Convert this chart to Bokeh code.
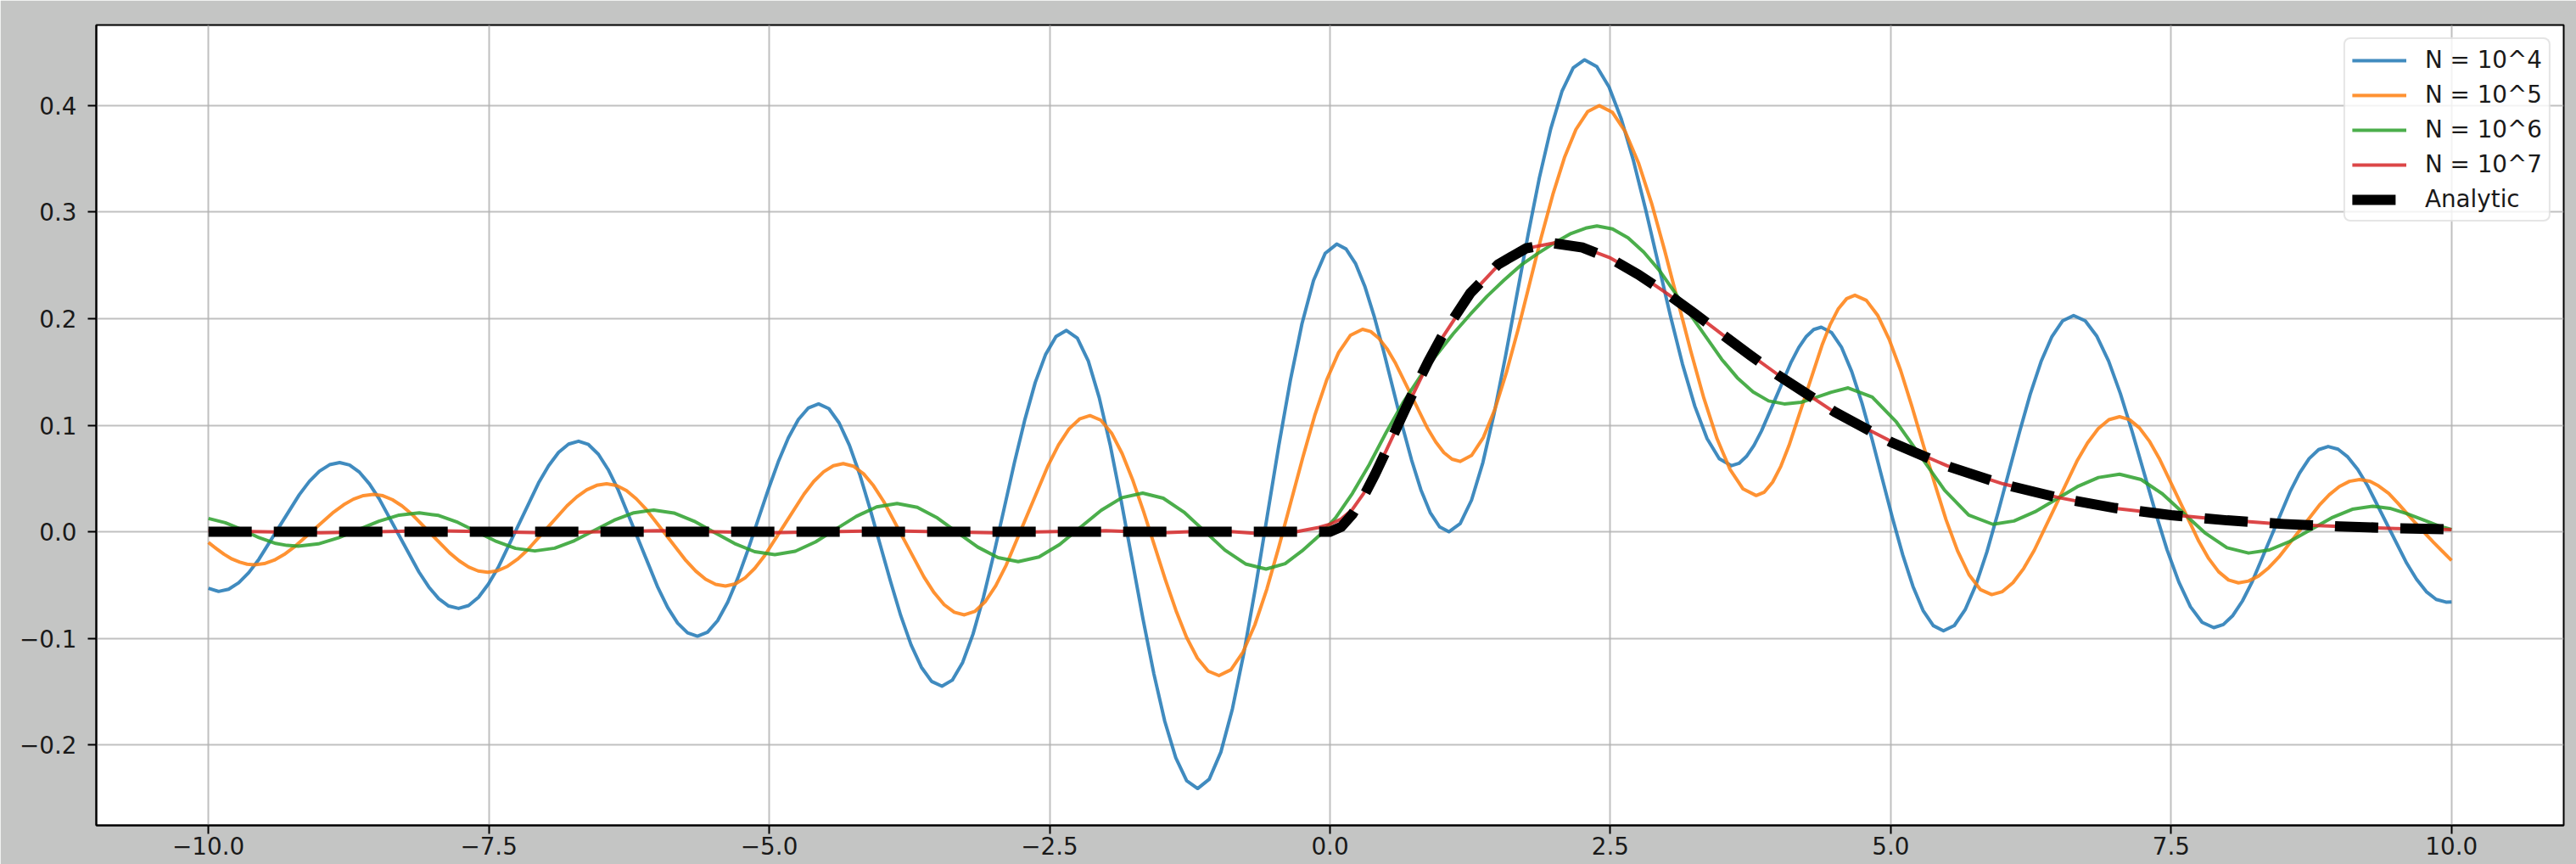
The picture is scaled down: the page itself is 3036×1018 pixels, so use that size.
from bokeh.plotting import figure
from bokeh.models import (FixedTicker, CustomJSTickFormatter, Legend, LegendItem,
                          Range1d, ColumnDataSource)
from bokeh.embed import file_html
from bokeh.resources import INLINE

# ---------------- data ----------------
x_ticks = [-10.0, -7.5, -5.0, -2.5, 0.0, 2.5, 5.0, 7.5, 10.0]
y_ticks = [-0.2, -0.1, 0.0, 0.1, 0.2, 0.3, 0.4]

series_labels = ["N = 10^4", "N = 10^5", "N = 10^6", "N = 10^7", "Analytic"]

blue_x = [-10.0, -9.91,
          -9.82, -9.73, -9.64, -9.55, -9.37, -9.19, -9.10, -9.01, -8.92, -8.83,
          -8.742, -8.653, -8.565, -8.477, -8.30, -8.123, -8.035, -7.947, -7.858, -7.77,
          -7.681, -7.592, -7.503, -7.413, -7.235, -7.057, -6.967, -6.878, -6.789, -6.70,
          -6.612, -6.523, -6.435, -6.347, -6.17, -5.993, -5.905, -5.817, -5.728, -5.64,
          -5.55, -5.46, -5.37, -5.28, -5.19, -5.10, -5.01, -4.92, -4.83, -4.74, -4.65, -4.56,
          -4.468, -4.377, -4.285, -4.193, -4.102, -4.01, -3.918, -3.827, -3.735, -3.643, -3.552, -3.46,
          -3.368, -3.275, -3.183, -3.09, -2.998, -2.905, -2.813, -2.72, -2.628, -2.535, -2.443, -2.35,
          -2.253, -2.155, -2.058, -1.96, -1.863, -1.765, -1.668, -1.57, -1.473, -1.375, -1.278, -1.18,
          -1.077, -0.973, -0.87, -0.767, -0.663, -0.56, -0.457, -0.353, -0.25, -0.147, -0.043, 0.06,
          0.143, 0.227, 0.31, 0.393, 0.477, 0.56, 0.643, 0.727, 0.81, 0.893, 0.977, 1.06,
          1.161, 1.262, 1.363, 1.463, 1.564, 1.665, 1.766, 1.867, 1.968, 2.068, 2.169, 2.27,
          2.379, 2.488, 2.598, 2.707, 2.816, 2.925, 3.034, 3.143, 3.253, 3.362, 3.471, 3.58,
          3.647, 3.713, 3.78, 3.847, 3.98, 4.113, 4.18, 4.247, 4.313, 4.38,
          4.471, 4.562, 4.652, 4.743, 4.834, 4.925, 5.016, 5.107, 5.198, 5.288, 5.379, 5.47,
          5.567, 5.663, 5.76, 5.857, 5.953, 6.05, 6.147, 6.243, 6.34, 6.437, 6.533, 6.63,
          6.734, 6.838, 6.943, 7.047, 7.151, 7.255, 7.359, 7.463, 7.568, 7.672, 7.776, 7.88,
          7.965, 8.05, 8.135, 8.22, 8.39, 8.56, 8.645, 8.73, 8.815, 8.90,
          8.988, 9.075, 9.163, 9.25, 9.425, 9.60, 9.688, 9.775, 9.863, 9.95, 10.0]
blue_y = [-0.053, -0.056,
          -0.0539, -0.0479, -0.0383, -0.0258, 0.0045, 0.0348, 0.0473, 0.0569, 0.0629, 0.065,
          0.0627, 0.0558, 0.0449, 0.0308, -0.0035, -0.0378, -0.0519, -0.0628, -0.0697, -0.072,
          -0.0693, -0.0615, -0.049, -0.0328, 0.0065, 0.0458, 0.062, 0.0745, 0.0823, 0.085,
          0.0819, 0.0727, 0.0582, 0.0393, -0.0065, -0.0523, -0.0712, -0.0857, -0.0949, -0.098,
          -0.0943, -0.0834, -0.0661, -0.0435, -0.0172, 0.011, 0.0392, 0.0655, 0.0881, 0.1054, 0.1163, 0.120,
          0.1155, 0.1022, 0.0812, 0.0538, 0.0218, -0.0125, -0.0468, -0.0788, -0.1062, -0.1272, -0.1405, -0.145,
          -0.1393, -0.1226, -0.0961, -0.0615, -0.0212, 0.022, 0.0652, 0.1055, 0.1401, 0.1666, 0.1833, 0.189,
          0.1817, 0.1602, 0.126, 0.0815, 0.0296, -0.026, -0.0816, -0.1335, -0.178, -0.2122, -0.2337, -0.241,
          -0.2323, -0.2068, -0.1662, -0.1133, -0.0516, 0.0145, 0.0806, 0.1423, 0.1952, 0.2358, 0.2613, 0.270,
          0.2654, 0.2519, 0.2305, 0.2025, 0.1699, 0.135, 0.1001, 0.0675, 0.0395, 0.0181, 0.0046, 0.0,
          0.0076, 0.0297, 0.0649, 0.1107, 0.1642, 0.2215, 0.2788, 0.3323, 0.3781, 0.4133, 0.4354, 0.443,
          0.4365, 0.4175, 0.3872, 0.3478, 0.3018, 0.2525, 0.2032, 0.1573, 0.1178, 0.0875, 0.0685, 0.062,
          0.0642, 0.0707, 0.081, 0.0945, 0.127, 0.1595, 0.173, 0.1833, 0.1898, 0.192,
          0.1871, 0.1729, 0.1503, 0.1208, 0.0864, 0.0495, 0.0126, -0.0218, -0.0513, -0.0739, -0.0881, -0.093,
          -0.088, -0.0732, -0.0497, -0.019, 0.0167, 0.055, 0.0933, 0.129, 0.1597, 0.1832, 0.198, 0.203,
          0.198, 0.1834, 0.1601, 0.1298, 0.0944, 0.0565, 0.0186, -0.0168, -0.0471, -0.0704, -0.085, -0.090,
          -0.0871, -0.0786, -0.0651, -0.0475, -0.005, 0.0375, 0.0551, 0.0686, 0.0771, 0.080,
          0.0775, 0.0702, 0.0586, 0.0435, 0.007, -0.0295, -0.0446, -0.0562, -0.0635, -0.066, -0.0658]

orange_x = [-10.0, -9.93, -9.86, -9.79, -9.72, -9.655, -9.59,
            -9.502, -9.413, -9.325, -9.237, -9.06, -8.883, -8.795, -8.707, -8.618, -8.53,
            -8.445, -8.36, -8.275, -8.19, -8.02, -7.85, -7.765, -7.68, -7.595, -7.51,
            -7.422, -7.333, -7.245, -7.157, -6.98, -6.803, -6.715, -6.627, -6.538, -6.45,
            -6.362, -6.273, -6.185, -6.097, -5.92, -5.743, -5.655, -5.567, -5.478, -5.39,
            -5.303, -5.215, -5.128, -5.04, -4.865, -4.69, -4.603, -4.515, -4.428, -4.34,
            -4.25, -4.16, -4.07, -3.98, -3.80, -3.62, -3.53, -3.44, -3.35, -3.26,
            -3.167, -3.073, -2.98, -2.887, -2.70, -2.513, -2.42, -2.327, -2.233, -2.14,
            -2.044, -1.948, -1.853, -1.757, -1.661, -1.565, -1.469, -1.373, -1.278, -1.182, -1.086, -0.99,
            -0.883, -0.777, -0.67, -0.563, -0.457, -0.35, -0.243, -0.137, -0.03, 0.077, 0.183, 0.29,
            0.363, 0.435, 0.508, 0.58, 0.725, 0.87, 0.943, 1.015, 1.088, 1.16,
            1.263, 1.367, 1.47, 1.573, 1.677, 1.78, 1.883, 1.987, 2.09, 2.193, 2.297, 2.40,
            2.517, 2.633, 2.75, 2.867, 2.983, 3.10, 3.217, 3.333, 3.45, 3.567, 3.683, 3.80,
            3.873, 3.947, 4.02, 4.093, 4.24, 4.387, 4.46, 4.533, 4.607, 4.68,
            4.782, 4.883, 4.985, 5.087, 5.188, 5.29, 5.392, 5.493, 5.595, 5.697, 5.798, 5.90,
            5.995, 6.09, 6.185, 6.28, 6.47, 6.66, 6.755, 6.85, 6.945, 7.04,
            7.128, 7.217, 7.305, 7.393, 7.57, 7.747, 7.835, 7.923, 8.012, 8.10,
            8.19, 8.28, 8.37, 8.46, 8.64, 8.82, 8.91, 9.00, 9.09, 9.18,
            9.27, 9.35, 9.44, 9.52, 9.60, 9.68, 9.76, 9.84, 9.92, 10.0]
orange_y = [-0.010, -0.0158, -0.0212, -0.0256, -0.0286, -0.0304, -0.031,
            -0.0299, -0.0266, -0.0213, -0.0145, 0.002, 0.0185, 0.0253, 0.0306, 0.0339, 0.035,
            0.0338, 0.0301, 0.0243, 0.0168, -0.0015, -0.0198, -0.0273, -0.0331, -0.0368, -0.038,
            -0.0366, -0.0324, -0.0258, -0.0173, 0.0035, 0.0243, 0.0328, 0.0394, 0.0436, 0.045,
            0.0434, 0.0386, 0.0309, 0.021, -0.003, -0.027, -0.0369, -0.0446, -0.0494, -0.051,
            -0.049, -0.0433, -0.0342, -0.0223, 0.0065, 0.0353, 0.0472, 0.0563, 0.062, 0.064,
            0.0616, 0.0545, 0.0432, 0.0285, -0.007, -0.0425, -0.0572, -0.0685, -0.0756, -0.078,
            -0.0748, -0.0655, -0.0506, -0.0313, 0.0155, 0.0623, 0.0816, 0.0965, 0.1058, 0.109,
            0.1048, 0.0927, 0.0733, 0.048, 0.0186, -0.013, -0.0446, -0.074, -0.0993, -0.1187, -0.1308, -0.135,
            -0.1295, -0.1132, -0.0874, -0.0538, -0.0146, 0.0275, 0.0696, 0.1088, 0.1424, 0.1682, 0.1845, 0.190,
            0.1879, 0.1817, 0.1718, 0.159, 0.128, 0.097, 0.0842, 0.0743, 0.0681, 0.066,
            0.0717, 0.0884, 0.1149, 0.1495, 0.1898, 0.233, 0.2762, 0.3165, 0.3511, 0.3776, 0.3943, 0.400,
            0.3938, 0.3755, 0.3464, 0.3085, 0.2644, 0.217, 0.1696, 0.1255, 0.0876, 0.0585, 0.0402, 0.034,
            0.0372, 0.0466, 0.0615, 0.081, 0.128, 0.175, 0.1945, 0.2094, 0.2188, 0.222,
            0.2172, 0.2032, 0.1808, 0.1518, 0.1179, 0.0815, 0.0451, 0.0113, -0.0178, -0.0402, -0.0542, -0.059,
            -0.0562, -0.0478, -0.0345, -0.0173, 0.0245, 0.0663, 0.0835, 0.0968, 0.1052, 0.108,
            0.1053, 0.0975, 0.0852, 0.069, 0.03, -0.009, -0.0252, -0.0375, -0.0453, -0.048,
            -0.0463, -0.0415, -0.0338, -0.0238, 0.0005, 0.0248, 0.0348, 0.0425, 0.0473, 0.049,
            0.0475, 0.043, 0.036, 0.027, 0.0175, 0.008, -0.001, -0.010, -0.0185, -0.027]

green_x = [-10.0, -9.85, -9.70, -9.55, -9.40, -9.30, -9.20,
           -9.02, -8.84, -8.66, -8.48, -8.30, -8.12,
           -7.948, -7.777, -7.605, -7.433, -7.262, -7.09,
           -6.913, -6.737, -6.56, -6.383, -6.207, -6.03,
           -5.85, -5.67, -5.49, -5.31, -5.13, -4.95,
           -4.768, -4.587, -4.405, -4.223, -4.042, -3.86,
           -3.68, -3.50, -3.32, -3.14, -2.96, -2.78,
           -2.595, -2.41, -2.225, -2.04, -1.855, -1.67,
           -1.487, -1.303, -1.12, -0.937, -0.753, -0.57,
           -0.40, -0.25, -0.10, 0.05, 0.20, 0.35, 0.50, 0.65, 0.80, 0.95,
           1.10, 1.25, 1.40, 1.55, 1.70, 1.85, 2.00, 2.15, 2.28, 2.38,
           2.519, 2.658, 2.797, 2.937, 3.215, 3.493, 3.632, 3.772, 3.911, 4.05,
           4.20, 4.33, 4.47, 4.62,
           4.835, 5.05, 5.265, 5.48, 5.695, 5.91,
           6.098, 6.287, 6.475, 6.663, 6.852, 7.04,
           7.232, 7.423, 7.615, 7.807, 7.998, 8.19,
           8.375, 8.56, 8.745, 8.93, 9.115, 9.30,
           9.45, 9.60, 9.75, 9.90, 10.0]
green_y = [0.0125, 0.0085, 0.002, -0.0055, -0.011, -0.0128, -0.0135,
           -0.0114, -0.0057, 0.0021, 0.0099, 0.0156, 0.0177,
           0.0153, 0.0088, -0.0002, -0.0091, -0.0156, -0.018,
           -0.0154, -0.0084, 0.0012, 0.0108, 0.0178, 0.0204,
           0.0176, 0.0099, -0.0006, -0.011, -0.0187, -0.0215,
           -0.0183, -0.0095, 0.0025, 0.0145, 0.0233, 0.0265,
           0.0229, 0.0129, -0.0008, -0.0144, -0.0243, -0.028,
           -0.0237, -0.0119, 0.0042, 0.0202, 0.032, 0.0363,
           0.0315, 0.0185, 0.0007, -0.0172, -0.0302, -0.035,
           -0.030, -0.018, -0.004, 0.013, 0.036, 0.063, 0.093, 0.121, 0.145, 0.166,
           0.186, 0.204, 0.221, 0.236, 0.250, 0.261, 0.271, 0.280, 0.285, 0.287,
           0.2842, 0.2758, 0.2625, 0.2453, 0.2035, 0.1618, 0.1445, 0.1313, 0.1228, 0.120,
           0.1215, 0.126, 0.131, 0.135,
           0.1264, 0.103, 0.071, 0.039, 0.0156, 0.007,
           0.0101, 0.0188, 0.0305, 0.0423, 0.0509, 0.054,
           0.049, 0.0355, 0.017, -0.0015, -0.015, -0.020,
           -0.0171, -0.009, 0.002, 0.013, 0.0211, 0.024,
           0.022, 0.017, 0.011, 0.005, 0.002]

red_x = [-10.0, -9.0, -8.0, -7.0, -6.0, -5.0, -4.0, -3.0, -2.0,
         -1.5, -1.0, -0.6, -0.3, -0.1,
         0.0, 0.1, 0.2, 0.3, 0.4, 0.5,
         0.625, 0.75, 0.875, 1.0,
         1.25, 1.5, 1.75, 2.0, 2.25, 2.5, 2.75, 3.0,
         3.25, 3.5, 3.75, 4.0,
         4.5, 5.0, 5.5, 6.0, 6.5, 7.0, 7.5, 8.0, 8.5, 9.0, 9.5, 10.0]
red_y = [0.001, -0.001, 0.001, -0.001, 0.001, -0.001, 0.001, -0.001, 0.001,
         -0.001, 0.001, -0.002, 0.0, 0.004,
         0.007, 0.012, 0.021, 0.036, 0.055, 0.076,
         0.104, 0.131, 0.158, 0.182,
         0.222, 0.250, 0.266, 0.271, 0.267, 0.257, 0.242, 0.224,
         0.205, 0.185, 0.166, 0.147,
         0.112, 0.085, 0.062, 0.045, 0.032, 0.022, 0.016, 0.011, 0.007, 0.005, 0.003, 0.002]

analytic_x = [-10.0, 0.0, 0.1, 0.2, 0.3, 0.4, 0.5, 0.625, 0.75, 0.875, 1.0,
              1.25, 1.5, 1.75, 2.0, 2.25, 2.5, 2.75, 3.0,
              3.25, 3.5, 3.75, 4.0,
              4.5, 5.0, 5.5, 6.0, 6.5, 7.0, 7.5, 8.0, 8.5, 9.0, 9.5, 10.0]
analytic_y = [0.0, 0.0, 0.0045, 0.0164, 0.0333, 0.0536, 0.0758, 0.1045, 0.1329, 0.1596, 0.1839,
              0.2238, 0.2510, 0.2661, 0.2707, 0.2668, 0.2565, 0.2414, 0.2240,
              0.2048, 0.1850, 0.1654, 0.1465,
              0.1125, 0.0842, 0.0618, 0.0446, 0.0318, 0.0223, 0.0155, 0.0107, 0.0073, 0.0050, 0.0034, 0.0023]

# ---------------- figure ----------------
FONT = "DejaVu Sans"
FS = "27.8px"
TEXT = "#1a1a1a"

p = figure(width=3036, height=1018, output_backend="svg", toolbar_location=None,
           x_range=Range1d(-11.0, 11.0), y_range=Range1d(-0.2756, 0.4756),
           min_border_left=113, min_border_right=15, min_border_top=29, min_border_bottom=46)
p.border_fill_color = "#c4c5c4"
p.background_fill_color = "white"
p.outline_line_color = "black"
p.outline_line_width = 2

for ax in (p.xaxis[0], p.yaxis[0]):
    ax.axis_line_color = "black"
    ax.axis_line_width = 2
    ax.major_tick_line_color = "black"
    ax.major_tick_line_width = 2
    ax.major_tick_out = 10
    ax.major_tick_in = 0
    ax.minor_tick_line_color = None
    ax.major_label_text_font = FONT
    ax.major_label_text_font_size = FS
    ax.major_label_text_color = TEXT

fmt = "const s = Math.abs(tick).toFixed(1); return (tick < -1e-9 ? '\\u2212' : '') + s;"
p.xaxis[0].ticker = FixedTicker(ticks=x_ticks)
p.yaxis[0].ticker = FixedTicker(ticks=y_ticks)
p.xaxis[0].formatter = CustomJSTickFormatter(code=fmt)
p.yaxis[0].formatter = CustomJSTickFormatter(code=fmt)
p.xaxis[0].major_label_standoff = 3
p.yaxis[0].major_label_standoff = 13

for g in (p.xgrid[0], p.ygrid[0]):
    g.grid_line_color = "#b0b0b0"
    g.grid_line_width = 2
    g.grid_line_alpha = 0.8


def curve(xs, ys, color, width, alpha=0.85, dash="solid"):
    n = min(len(xs), len(ys))
    src = ColumnDataSource(dict(x=xs[:n], y=ys[:n]))
    return p.line("x", "y", source=src, line_color=color, line_width=width,
                  line_alpha=alpha, line_dash=dash, line_join="round")


r1 = curve(blue_x, blue_y, "#1f77b4", 4)
r2 = curve(orange_x, orange_y, "#ff7f0e", 4)
r3 = curve(green_x, green_y, "#2ca02c", 4)
r4 = curve(red_x, red_y, "#d62728", 4)
r5 = curve(analytic_x, analytic_y, "black", 12, alpha=1.0, dash="51 26")
r5.glyph.line_join = "miter"
r5.glyph.line_cap = "butt"

legend = Legend(items=[LegendItem(label=lab, renderers=[r])
                       for lab, r in zip(series_labels, [r1, r2, r3, r4, r5])],
                location="top_right")
legend.margin = 15
legend.padding = 8
legend.spacing = 8
legend.glyph_width = 64
legend.glyph_height = 32
legend.label_height = 32
legend.label_standoff = 22
legend.label_text_font = FONT
legend.label_text_font_size = FS
legend.label_text_color = TEXT
legend.border_line_color = "#cccccc"
legend.border_line_width = 2
legend.background_fill_color = "white"
legend.background_fill_alpha = 0.8
try:
    legend.border_radius = 8
except Exception:
    pass
p.add_layout(legend)

open("out.html", "w").write(file_html(p, INLINE))
